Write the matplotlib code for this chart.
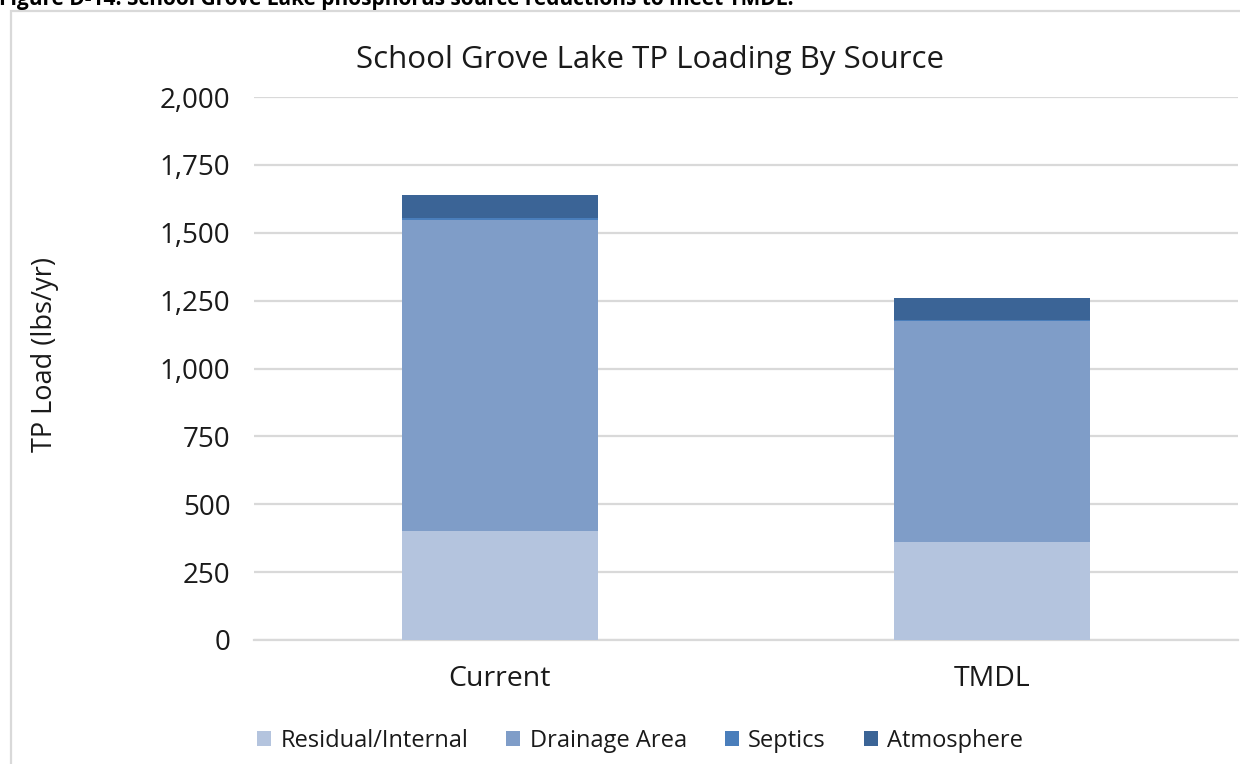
import matplotlib
matplotlib.use("Agg")
import matplotlib.pyplot as plt
from matplotlib.patches import Rectangle

plt.rcParams['font.family'] = ['Open Sans', 'DejaVu Sans']

categories = ["Current", "TMDL"]
series_names = ["Residual/Internal", "Drainage Area", "Septics", "Atmosphere"]
residual = [400, 360]
drainage = [1147, 815]
septics = [8, 2]
atmosphere = [83, 83]
series_values = [residual, drainage, septics, atmosphere]
colors = ["#B4C4DE", "#7F9DC8", "#4A7EBB", "#3B6496"]
yticks = [0, 250, 500, 750, 1000, 1250, 1500, 1750, 2000]

W, H = 1240, 764
fig = plt.figure(figsize=(W / 100, H / 100), dpi=100)

# chart frame
fig.patches.append(Rectangle((11 / W, -0.05), 1.2, (H - 11) / H + 0.05,
                             transform=fig.transFigure, fill=False,
                             edgecolor="#D9D9D9", linewidth=1.6, zorder=0))
# caption (clipped at the top edge, as in the source page)
fig.text(-1 / W, (H - 5) / H, "Figure D-14. School Grove Lake phosphorus source reductions to meet TMDL.",
         fontsize=15, fontweight='bold', ha='left', va='baseline', color='black')

ax = fig.add_axes([254 / W, (H - 640) / H, (1238 - 254) / W, (640 - 97) / H])
x = list(range(len(categories)))
bottom = [0] * len(categories)
for name, vals, c in zip(series_names, series_values, colors):
    ax.bar(x, vals, width=0.4, bottom=bottom, color=c, label=name, zorder=3)
    bottom = [b + v for b, v in zip(bottom, vals)]

ax.set_xlim(-0.5, 1.5)
ax.set_ylim(0, 2000)
ax.set_yticks(yticks)
ax.set_yticklabels([f"{t:,}" for t in yticks], fontsize=20, color="#1a1a1a")
ax.set_xticks(x)
ax.set_xticklabels(categories, fontsize=20.5, color="#1a1a1a")
ax.tick_params(axis='both', length=0)
ax.tick_params(axis='y', pad=17)
ax.tick_params(axis='x', pad=18)
ax.yaxis.grid(True, color="#D9D9D9", linewidth=1.6, zorder=0)
for s in ["top", "right", "left"]:
    ax.spines[s].set_visible(False)
ax.spines["bottom"].set_color("#D9D9D9")
ax.spines["bottom"].set_linewidth(1.6)
ax.set_axisbelow(True)

ax.set_ylabel("TP Load (lbs/yr)", fontsize=19.5, color="#1a1a1a", va='center')
ax.yaxis.set_label_coords(-(254 - 45) / (1238 - 254), (640 - 355) / (640 - 97))

fig.text(650 / W, (H - 60) / H, "School Grove Lake TP Loading By Source",
         fontsize=22.5, ha='center', va='center', color="#1a1a1a")

leg = fig.legend(loc='center', bbox_to_anchor=(640 / W, (H - 741) / H), ncol=4,
                 frameon=False, fontsize=17, handlelength=0.6, handleheight=0.6,
                 handletextpad=0.4, columnspacing=1.6)
for t in leg.get_texts():
    t.set_color("#1a1a1a")

fig.savefig("out.png", dpi=100)
